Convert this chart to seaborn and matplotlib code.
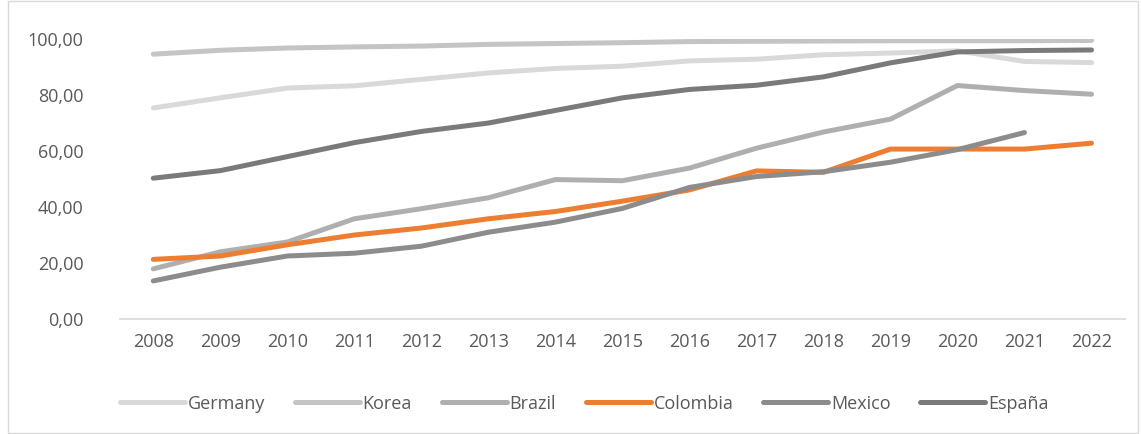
import numpy as np
import pandas as pd
import matplotlib
matplotlib.use("Agg")
import matplotlib.pyplot as plt
import seaborn as sns

years = list(range(2008, 2023))
germany = [75.4, 79.0, 82.5, 83.3, 85.6, 87.9, 89.5, 90.3, 92.2, 92.8, 94.4, 95.0, 95.8, 92.0, 91.6]
korea = [94.6, 96.0, 96.8, 97.2, 97.5, 98.1, 98.4, 98.7, 99.1, 99.2, 99.3, 99.4, 99.4, 99.4, 99.5]
brazil = [17.9, 24.0, 27.5, 35.8, 39.4, 43.3, 49.8, 49.4, 53.9, 61.0, 66.8, 71.4, 83.4, 81.6, 80.3]
colombia = [21.3, 22.5, 26.5, 30.0, 32.5, 35.8, 38.4, 42.1, 46.1, 52.9, 52.4, 60.7, 60.7, 60.7, 62.8]
mexico = [13.6, 18.5, 22.5, 23.5, 26.0, 31.0, 34.6, 39.5, 47.0, 50.9, 52.6, 56.0, 60.5, 66.6, np.nan]
espana = [50.3, 53.0, 58.0, 63.0, 67.0, 70.0, 74.5, 79.0, 82.0, 83.5, 86.5, 91.5, 95.4, 95.9, 96.1]

series = ["Germany", "Korea", "Brazil", "Colombia", "Mexico", "España"]
values = [germany, korea, brazil, colombia, mexico, espana]
colors = ["#d9d9d9", "#c4c4c4", "#afafaf", "#ed7d31", "#8c8c8c", "#7a7a7a"]

df = pd.concat([pd.DataFrame({"year": years, "value": v, "country": s}) for s, v in zip(series, values)],
               ignore_index=True)

sns.set_theme(style="white")
plt.rcParams["font.family"] = ["Open Sans", "DejaVu Sans"]

fig = plt.figure(figsize=(11.41, 4.34), dpi=100)
ax = fig.add_axes([0.105, 0.265, 0.881, 0.645])

sns.lineplot(data=df, x="year", y="value", hue="country", hue_order=series,
             palette=dict(zip(series, colors)), linewidth=3.6, ax=ax,
             solid_capstyle="round", legend=True)

ax.set_xlim(2007.5, 2022.5)
ax.set_ylim(0, 100)
ax.set_xticks(years)
ax.set_xticklabels([str(y) for y in years])
ax.set_yticks(np.arange(0, 101, 20))
ax.set_yticklabels([f"{v},00" for v in range(0, 101, 20)])
ax.tick_params(axis="both", labelsize=13, colors="#595959", length=0)
ax.tick_params(axis="x", pad=10)
ax.tick_params(axis="y", pad=26)
ax.set_xlabel("")
ax.set_ylabel("")
for side in ["top", "right", "left"]:
    ax.spines[side].set_visible(False)
ax.spines["bottom"].set_color("#d9d9d9")
ax.spines["bottom"].set_linewidth(1.2)

handles, labels = ax.get_legend_handles_labels()
ax.legend_.remove()
leg = fig.legend(handles, labels, loc="center", bbox_to_anchor=(0.512, 0.07), ncol=6,
                 frameon=False, fontsize=13, handlelength=3.6, handletextpad=0.15,
                 columnspacing=1.65)
for t in leg.get_texts():
    t.set_color("#595959")
for h in leg.legend_handles:
    h.set_linewidth(3.6)

border = plt.Rectangle((0.007, 0.003), 0.99, 0.994, transform=fig.transFigure,
                       fill=False, edgecolor="#d9d9d9", linewidth=1)
fig.patches.append(border)

fig.savefig("out.png", dpi=100)
